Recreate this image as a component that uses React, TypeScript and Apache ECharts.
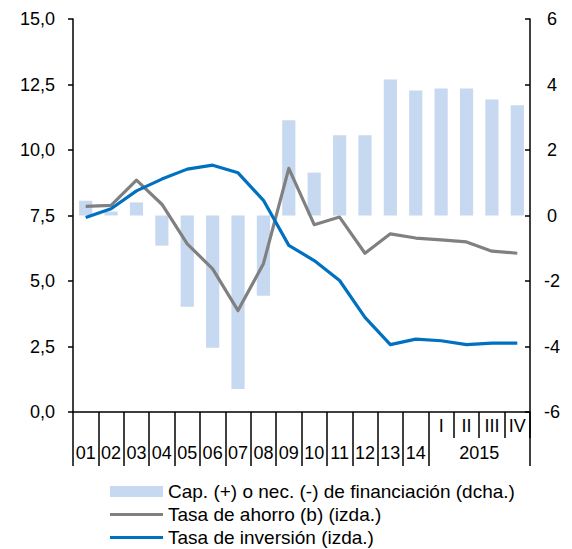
import React, { useEffect, useRef } from "react";
import * as echarts from "echarts";

const categories = ["01", "02", "03", "04", "05", "06", "07", "08", "09", "10", "11", "12", "13", "14", "I", "II", "III", "IV"];
const yearLabels = ["01", "02", "03", "04", "05", "06", "07", "08", "09", "10", "11", "12", "13", "14", "", "", "", ""];
const quarterLabels = ["", "", "", "", "", "", "", "", "", "", "", "", "", "", "I", "II", "III", "IV"];
const groupYear = "2015";
const groupCenter = 16;

const capNec = [0.45, 0.12, 0.4, -0.92, -2.79, -4.04, -5.3, -2.45, 2.91, 1.31, 2.45, 2.45, 4.15, 3.82, 3.88, 3.88, 3.54, 3.37];
const ahorro = [7.85, 7.89, 8.85, 7.93, 6.42, 5.46, 3.87, 5.66, 9.3, 7.15, 7.44, 6.06, 6.8, 6.64, 6.57, 6.49, 6.14, 6.06];
const inversion = [7.42, 7.76, 8.44, 8.89, 9.27, 9.42, 9.13, 8.08, 6.36, 5.78, 5.02, 3.61, 2.57, 2.78, 2.72, 2.57, 2.63, 2.63];

const seriesNames = [
  "Cap. (+) o nec. (-) de financiación (dcha.)",
  "Tasa de ahorro (b) (izda.)",
  "Tasa de inversión (izda.)",
];
const legendIcons = ["rect", "path://M0,0H53V3H0Z", "path://M0,0H53V3H0Z"];
const legendTops = [482, 505, 528];

const FONT = "'Liberation Sans', Arial, sans-serif";
const FS = 18;
const BLACK = "#000000";

export default function App() {
  const ref = useRef<HTMLDivElement>(null);
  useEffect(() => {
    if (!ref.current) return;
    const chart = echarts.init(ref.current, null, { renderer: "svg" });
    const firstQuarter = quarterLabels.findIndex((q) => q !== "");
    chart.setOption({
      animation: false,
      textStyle: { fontFamily: FONT },
      grid: { left: 73, right: 42, top: 19, bottom: 137, containLabel: false },
      legend: seriesNames.map((name, i) => ({
        orient: "vertical",
        left: 110,
        top: legendTops[i],
        padding: 0,
        itemWidth: 53,
        itemHeight: 11,
        itemGap: 0,
        textStyle: { fontFamily: FONT, fontSize: 19, color: BLACK, lineHeight: 19 },
        data: [{ name, icon: legendIcons[i] }],
      })),
      xAxis: [
        {
          type: "category",
          data: categories,
          position: "bottom",
          axisLine: { show: true, onZero: false, lineStyle: { color: BLACK, width: 1.5 } },
          axisTick: {
            show: true,
            length: 54,
            interval: (index: number) => index <= firstQuarter,
            lineStyle: { color: BLACK, width: 1.5 },
          },
          axisLabel: {
            interval: 0,
            margin: 32,
            fontSize: FS,
            color: BLACK,
            fontFamily: FONT,
            formatter: (_v: string, i: number) => yearLabels[i],
          },
          splitLine: { show: false },
        },
        {
          type: "category",
          data: categories,
          position: "bottom",
          axisLine: { show: false, onZero: false },
          axisTick: {
            show: true,
            length: 26,
            interval: (index: number) => index > firstQuarter,
            lineStyle: { color: BLACK, width: 1.5 },
          },
          axisLabel: {
            interval: 0,
            margin: 5,
            fontSize: FS,
            color: BLACK,
            fontFamily: FONT,
            formatter: (_v: string, i: number) => quarterLabels[i],
          },
          splitLine: { show: false },
        },
        {
          type: "value",
          min: 0,
          max: categories.length,
          interval: 2,
          position: "bottom",
          axisLine: { show: false, onZero: false },
          axisTick: { show: false },
          splitLine: { show: false },
          axisLabel: {
            margin: 32,
            fontSize: FS,
            color: BLACK,
            fontFamily: FONT,
            formatter: (v: number) => (v === groupCenter ? groupYear : ""),
          },
        },
      ],
      yAxis: [
        {
          type: "value",
          min: 0,
          max: 15,
          interval: 2.5,
          position: "left",
          axisLine: { show: true, lineStyle: { color: BLACK, width: 1.5 } },
          axisTick: { show: true, length: 5, lineStyle: { color: BLACK, width: 1.5 } },
          splitLine: { show: false },
          axisLabel: {
            margin: 18,
            fontSize: FS,
            color: BLACK,
            fontFamily: FONT,
            formatter: (v: number) => v.toFixed(1).replace(".", ","),
          },
        },
        {
          type: "value",
          min: -6,
          max: 6,
          interval: 2,
          position: "right",
          axisLine: { show: true, lineStyle: { color: BLACK, width: 1.5 } },
          axisTick: { show: true, inside: true, length: 5, lineStyle: { color: BLACK, width: 1.5 } },
          splitLine: { show: false },
          axisLabel: {
            margin: 22,
            align: "center",
            fontSize: FS,
            color: BLACK,
            fontFamily: FONT,
          },
        },
      ],
      series: [
        {
          name: seriesNames[0],
          type: "bar",
          xAxisIndex: 0,
          yAxisIndex: 1,
          data: capNec,
          barWidth: "52%",
          itemStyle: { color: "#c6d9f0" },
        },
        {
          name: seriesNames[1],
          type: "line",
          xAxisIndex: 0,
          yAxisIndex: 0,
          data: ahorro,
          symbol: "none",
          lineStyle: { color: "#808080", width: 3.2, join: "round" },
          itemStyle: { color: "#808080" },
        },
        {
          name: seriesNames[2],
          type: "line",
          xAxisIndex: 0,
          yAxisIndex: 0,
          data: inversion,
          symbol: "none",
          lineStyle: { color: "#0070c0", width: 3.2, join: "round" },
          itemStyle: { color: "#0070c0" },
        },
      ],
    });
    return () => chart.dispose();
  }, []);
  return (
    <div
      ref={ref}
      style={{ position: "fixed", left: 0, top: 0, width: 572, height: 549, background: "#ffffff" }}
    />
  );
}
